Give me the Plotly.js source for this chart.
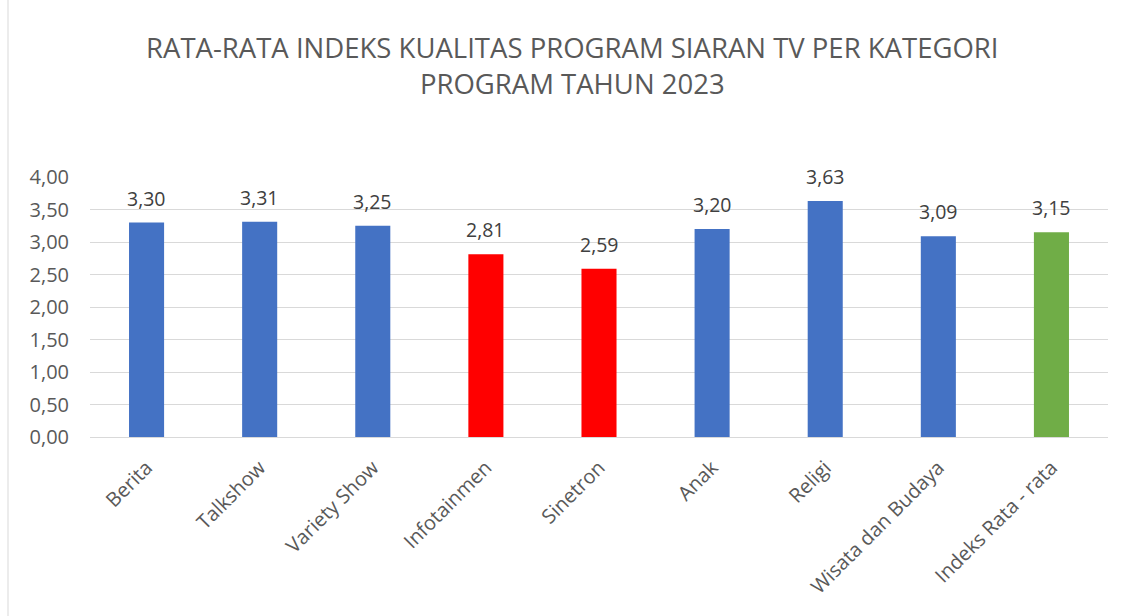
<!DOCTYPE html>
<html>
<head>
<meta charset="utf-8">
<script src="https://cdn.plot.ly/plotly-3.0.1.min.js"></script>
<style>html,body{margin:0;padding:0;background:#fff;}#chart{width:1131px;height:616px;}</style>
</head>
<body>
<div id="chart"></div>
<script>
const categories = ["Berita", "Talkshow", "Variety Show", "Infotainmen", "Sinetron", "Anak", "Religi", "Wisata dan Budaya", "Indeks Rata - rata"];
const values = [3.30, 3.31, 3.25, 2.81, 2.59, 3.20, 3.63, 3.09, 3.15];
const barColors = ["#4472C4", "#4472C4", "#4472C4", "#FF0000", "#FF0000", "#4472C4", "#4472C4", "#4472C4", "#70AD47"];
const tickVals = [0, 0.5, 1, 1.5, 2, 2.5, 3, 3.5, 4];
const tickText = ["0,00", "0,50", "1,00", "1,50", "2,00", "2,50", "3,00", "3,50", "4,00"];
const labels = values.map(v => v.toFixed(2).replace(".", ","));

const font = "Open Sans, Noto Sans, sans-serif";
const annotations = categories.map((c, i) => ({
  x: c, y: values[i], xref: "x", yref: "y",
  text: labels[i], showarrow: false,
  yanchor: "bottom", yshift: 9,
  font: {family: font, size: 19.5, color: "#404040"}
}));

Plotly.newPlot("chart", [{
  type: "bar",
  x: categories,
  y: values,
  marker: {color: barColors},
  hoverinfo: "none"
}], {
  width: 1131, height: 616,
  margin: {l: 90, r: 23, t: 177, b: 179},
  paper_bgcolor: "#fff", plot_bgcolor: "#fff",
  bargap: 0.69,
  showlegend: false,
  title: {
    text: "RATA-RATA INDEKS KUALITAS PROGRAM SIARAN TV PER KATEGORI<br>PROGRAM TAHUN 2023",
    font: {family: font, size: 27.5, color: "#595959", lineposition: "none"},
    x: 0.506, xanchor: "center",
    y: 1 - 58/616, yanchor: "top", yref: "container"
  },
  xaxis: {
    tickangle: -45,
    tickfont: {family: font, size: 20, color: "#595959"},
    showgrid: false,
    showline: true, linecolor: "#D9D9D9", linewidth: 1,
    ticks: "", ticklen: 0,
    ticklabelstandoff: 10
  },
  yaxis: {
    range: [0, 4],
    tickvals: tickVals,
    ticktext: tickText,
    tickfont: {family: font, size: 20, color: "#595959"},
    gridcolor: "#D9D9D9", gridwidth: 1,
    zeroline: false,
    showline: false,
    ticks: "", ticklen: 0,
    ticklabelstandoff: 20,
    automargin: false
  },
  annotations: annotations,
  shapes: [{
    type: "line", xref: "paper", yref: "paper",
    x0: -82/1018, x1: -82/1018, y0: -2, y1: 2,
    line: {color: "#D9D9D9", width: 1}
  }]
}, {displayModeBar: false, staticPlot: true});
</script>
</body>
</html>
